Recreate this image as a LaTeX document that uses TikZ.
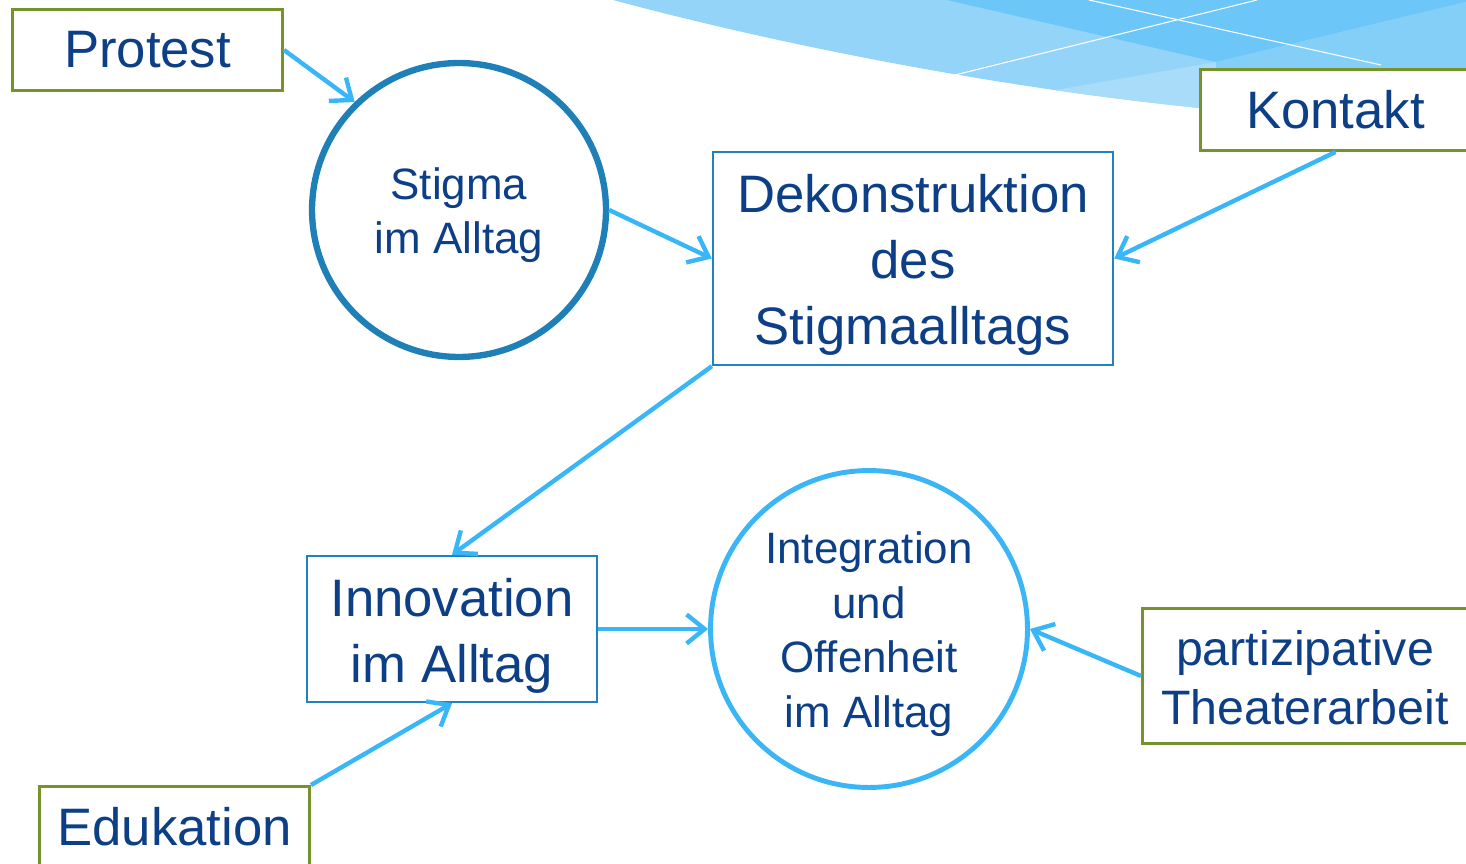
\documentclass[tikz,border=0pt]{standalone}
\usepackage{fontspec}
\setmainfont{Liberation Sans}
\usetikzlibrary{arrows.meta}

\definecolor{txtblue}{HTML}{0D3F87}
\definecolor{framegreen}{HTML}{76922A}
\definecolor{frameblue}{HTML}{2281C0}
\definecolor{ringdark}{HTML}{1F80B8}
\definecolor{ringlight}{HTML}{3AB6F7}
\definecolor{arrowblue}{HTML}{38B6F7}
\definecolor{wavebase}{HTML}{93D4F8}
\definecolor{wavedark}{HTML}{6CC6F7}
\definecolor{wavepale}{HTML}{A9DCF9}
\definecolor{wavemid}{HTML}{84CFF8}

% strut that pushes a block of lines down
\newcommand{\toplift}[1]{\rule{0pt}{#1}}

\tikzset{
	influence/.style={draw=framegreen, line width=1.7pt, fill=white, text=txtblue, align=center, inner sep=0pt},
	stage/.style={draw=frameblue, line width=1.4pt, fill=white, text=txtblue, align=center, inner sep=0pt},
	state/.style={circle, fill=white, text=txtblue, align=center, inner sep=0pt},
	flow/.style={draw=arrowblue, line width=2.5pt, -{Straight Barb[length=3.6mm,width=5.8mm]}},
	bigtxt/.style={font=\fontsize{30}{37.5}\selectfont},
	midtxt/.style={font=\fontsize{25}{31}\selectfont},
}

\begin{document}
\begin{tikzpicture}[x=0.02cm, y=-0.02cm]
		\useasboundingbox (0,0) rectangle (1466,864);
		
		% swoosh top right
		\begin{scope}
			\clip (613,0) .. controls (780,45) and (1000,88) .. (1200,108) .. controls (1300,118) and (1400,124) .. (1466,126) -- (1466,0) -- cycle;
			\fill[wavebase] (600,-1) rectangle (1467,130);
			\fill[wavedark] (947,0) -- (1216,62) -- (1466,2) -- (1466,0) -- cycle;
			\fill[wavepale] (1056,90) -- (1216,62) -- (1216,130) -- (1056,130) -- cycle;
			\fill[wavemid] (1216,62) -- (1466,2) -- (1466,130) -- (1216,130) -- cycle;
		\end{scope}
		\draw[white, line width=0.6pt] (955,75) -- (1257,0);
		\draw[white, line width=0.6pt] (1089,0) -- (1381,65);
		
		\node[influence, bigtxt, minimum width=5.4cm, minimum height=1.62cm] (protest) at (147.5,50) {Protest};
		\node[influence, bigtxt, minimum width=5.4cm, minimum height=1.62cm] (kontakt) at (1335.5,110) {Kontakt};
		\node[influence, bigtxt, minimum width=5.4cm, minimum height=1.62cm] (edukation) at (174.5,827) {Edukation};
		\node[influence, font=\fontsize{27.5}{33.5}\selectfont, minimum width=6.5cm, minimum height=2.7cm] (theater) at (1305,676) {\toplift{22pt}partizipative\\Theaterarbeit};
		
		\node[state, draw=ringdark, line width=3.6pt, midtxt, minimum size=5.88cm] (stigma) at (459,210) {\toplift{24pt}Stigma\\im Alltag};
		\node[state, draw=ringlight, line width=2.8pt, midtxt, minimum size=6.34cm] (integration) at (869,629) {\toplift{24pt}Integration\\und\\Offenheit\\im Alltag};
		
		\node[stage, bigtxt, minimum width=8cm, minimum height=4.26cm] (dekon) at (913,258.5) {\toplift{29pt}Dekonstruktion\\des\\Stigmaalltags};
		\node[stage, bigtxt, minimum width=5.8cm, minimum height=2.92cm] (innovation) at (452,629) {\toplift{29.5pt}Innovation\\im Alltag};
		
		\draw[flow] (protest.east) -- (stigma.134);
		\draw[flow] (stigma.east) -- (dekon.west);
		\draw[flow] (kontakt.south) -- (dekon.east);
		\draw[flow] (dekon.south west) -- (innovation.north);
		\draw[flow] (innovation.east) -- (integration.west);
		\draw[flow] (theater.west) -- (integration.east);
		\draw[flow] (edukation.north east) -- (innovation.south);
	\end{tikzpicture}
\end{document}
